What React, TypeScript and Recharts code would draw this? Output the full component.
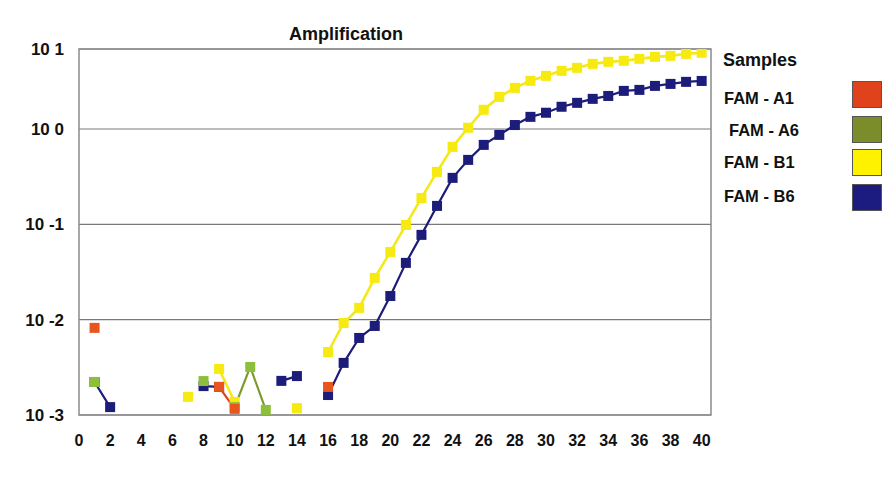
import React from 'react';
import { LineChart, Line, XAxis, YAxis, CartesianGrid, ReferenceArea } from 'recharts';

// cycle numbers on the x axis
const cycles = [
  1, 2, 3, 4, 5, 6, 7, 8, 9, 10, 11, 12, 13, 14, 15, 16, 17, 18, 19, 20,
  21, 22, 23, 24, 25, 26, 27, 28, 29, 30, 31, 32, 33, 34, 35, 36, 37, 38, 39, 40,
];

// fluorescence per cycle, null where nothing was drawn
const famA1 = [
  0.0082, null, null, null, null, null, null, null, 0.00197, 0.00116,
  null, null, null, null, null, 0.00197, null, null, null, null,
  null, null, null, null, null, null, null, null, null, null,
  null, null, null, null, null, null, null, null, null, null,
];

const famA6 = [
  0.00222, null, null, null, null, null, null, 0.00227, null, 0.00121,
  0.00319, 0.00113, null, null, null, null, null, null, null, null,
  null, null, null, null, null, null, null, null, null, null,
  null, null, null, null, null, null, null, null, null, null,
];

const famB1 = [
  null, null, null, null, null, null, 0.00155, null, 0.00304, 0.00137,
  null, null, null, 0.00118, null, 0.00458, 0.00923, 0.0133, 0.0274, 0.0513,
  0.0986, 0.189, 0.355, 0.649, 1.03, 1.59, 2.17, 2.7, 3.2, 3.61,
  4.07, 4.38, 4.82, 5.06, 5.19, 5.44, 5.71, 5.85, 6.14, 6.3,
];

const famB6 = [
  0.00222, 0.00121, null, null, null, null, null, 0.00201, 0.00197, null,
  null, null, 0.00228, 0.00256, null, 0.00162, 0.00352, 0.00643, 0.00859, 0.0177,
  0.0394, 0.0775, 0.156, 0.307, 0.474, 0.681, 0.867, 1.1, 1.34, 1.48,
  1.71, 1.88, 2.07, 2.22, 2.51, 2.57, 2.83, 2.97, 3.12, 3.19,
];

const xTicks = [0, 2, 4, 6, 8, 10, 12, 14, 16, 18, 20, 22, 24, 26, 28, 30, 32, 34, 36, 38, 40];
const yTicks = [0.001, 0.01, 0.1, 1, 6.9];
const yTickLabels = ['10 -3', '10 -2', '10 -1', '10 0', '10 1'];

const legendNames = ['FAM - A1', 'FAM - A6', 'FAM - B1', 'FAM - B6'];
const legendColors = ['#e0421c', '#7b8c2a', '#fff200', '#1b1b80'];

const data = cycles.map((cycle, i) => ({
  cycle,
  a1: famA1[i],
  a6: famA6[i],
  b1: famB1[i],
  b6: famB6[i],
}));

const FONT = '"Liberation Sans", Arial, sans-serif';

const squareDot = (fill: string, size = 10) => (props: any) => {
  const { cx, cy, index, value } = props;
  if (cx == null || cy == null || value == null) return <g key={`d-${index}`} />;
  return (
    <rect key={`d-${index}`} x={cx - size / 2} y={cy - size / 2} width={size} height={size} fill={fill} />
  );
};

const legendTop = [98, 130, 162, 196];
const legendLeft = [724, 729, 724, 724];
const swatchTop = [81, 116, 149, 184];

export default function App() {
  return (
    <div
      style={{
        position: 'relative',
        width: 891,
        height: 481,
        margin: -8,
        background: '#fff',
        fontFamily: FONT,
        overflow: 'hidden',
      }}
    >
      <div
        style={{
          position: 'absolute',
          left: 4,
          top: 6,
          right: 0,
          bottom: 0,
          borderTop: '2px solid #8c8c8c',
          borderLeft: '2px solid #8c8c8c',
        }}
      />
      <div style={{ position: 'absolute', left: 0, top: 0 }}>
        <LineChart width={891} height={481} data={data} margin={{ top: 49, right: 180, bottom: 26, left: 0 }}>
          <CartesianGrid horizontal vertical={false} stroke="#7a7a7a" strokeWidth={1.2} />
          <XAxis
            type="number"
            dataKey="cycle"
            domain={[0, 40.6]}
            ticks={xTicks}
            allowDataOverflow
            height={40}
            axisLine={false}
            tickLine={false}
            tickSize={0}
            tickMargin={20}
            interval={0}
            tick={{ fill: '#111', fontSize: 16, fontWeight: 'bold', fontFamily: FONT }}
          />
          <YAxis
            scale="log"
            domain={[0.001, 6.9]}
            ticks={yTicks}
            allowDataOverflow
            width={79}
            axisLine={false}
            tickLine={false}
            tickSize={0}
            tickMargin={15}
            interval={0}
            tickFormatter={(v: number, i: number) => yTickLabels[i]}
            tick={{ fill: '#111', fontSize: 17, fontWeight: 'bold', fontFamily: FONT }}
          />
          <ReferenceArea x1={0} x2={40.6} y1={0.001} y2={6.9} fill="none" stroke="#8a8a8a" strokeWidth={1.5} />
          <Line
            dataKey="b6"
            stroke="#1c1c7a"
            strokeWidth={2.2}
            dot={squareDot('#1c1c7a')}
            activeDot={false}
            isAnimationActive={false}
          />
          <Line
            dataKey="b1"
            stroke="#f4e81a"
            strokeWidth={2.6}
            dot={squareDot('#f6ea10')}
            activeDot={false}
            isAnimationActive={false}
          />
          <Line
            dataKey="a6"
            stroke="#7e9a2c"
            strokeWidth={2.2}
            dot={squareDot('#8dbf3c')}
            activeDot={false}
            isAnimationActive={false}
          />
          <Line
            dataKey="a1"
            stroke="#e0421c"
            strokeWidth={2.2}
            dot={squareDot('#e8561e')}
            activeDot={false}
            isAnimationActive={false}
          />
        </LineChart>
      </div>
      <div
        style={{
          position: 'absolute',
          left: 289,
          top: 24,
          fontSize: 18,
          fontWeight: 'bold',
          lineHeight: '20px',
          color: '#111',
        }}
      >
        Amplification
      </div>
      <div
        style={{
          position: 'absolute',
          left: 723,
          top: 49,
          fontSize: 18,
          fontWeight: 'bold',
          lineHeight: '22px',
          color: '#111',
        }}
      >
        Samples
      </div>
      {legendNames.map((name, i) => (
        <React.Fragment key={name}>
          <div
            style={{
              position: 'absolute',
              left: legendLeft[i],
              top: legendTop[i] - 10,
              fontSize: 16.5,
              fontWeight: 'bold',
              lineHeight: '20px',
              color: '#111',
              whiteSpace: 'nowrap',
            }}
          >
            {name}
          </div>
          <div
            style={{
              position: 'absolute',
              left: 852,
              top: swatchTop[i],
              width: 28,
              height: 25,
              background: legendColors[i],
              border: '1px solid #555',
            }}
          />
        </React.Fragment>
      ))}
    </div>
  );
}
